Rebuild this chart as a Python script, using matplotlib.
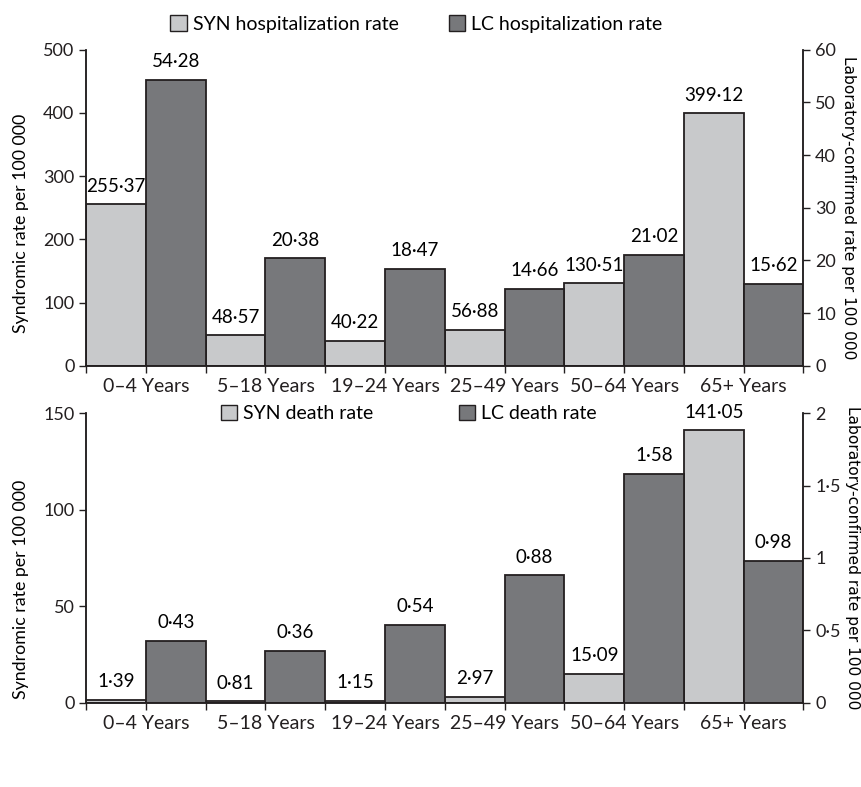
import matplotlib
matplotlib.use("Agg")
import matplotlib.pyplot as plt
from matplotlib.patches import Patch
import numpy as np

plt.rcParams['font.family'] = ['Lato', 'DejaVu Sans']

GROUPS = ["0\u20134 Years", "5\u201318 Years", "19\u201324 Years",
          "25\u201349 Years", "50\u201364 Years", "65+ Years"]

SYN_HOSP = [255.37, 48.57, 40.22, 56.88, 130.51, 399.12]
LC_HOSP = [54.28, 20.38, 18.47, 14.66, 21.02, 15.62]
SYN_DEATH = [1.39, 0.81, 1.15, 2.97, 15.09, 141.05]
LC_DEATH = [0.43, 0.36, 0.54, 0.88, 1.58, 0.98]

LIGHT = "#c8c9cb"
DARK = "#77787b"
EDGE = "#231f20"


def fmt(v):
    return f"{v:.2f}".replace(".", "\u00b7")


def fmt_tick(v, pos=None):
    if v == int(v):
        return f"{int(v)}"
    return f"{v:g}".replace(".", "\u00b7")


def panel(ax, syn, lc, ymax_l, ymax_r, lticks, rticks, label_y):
    x = np.arange(len(GROUPS))
    ax2 = ax.twinx()
    b1 = ax.bar(x - 0.25, syn, 0.5, color=LIGHT, edgecolor=EDGE, linewidth=1.3)
    b2 = ax2.bar(x + 0.25, lc, 0.5, color=DARK, edgecolor=EDGE, linewidth=1.3)
    ax.bar_label(b1, labels=[fmt(v) for v in syn], padding=7, fontsize=13.5)
    ax2.bar_label(b2, labels=[fmt(v) for v in lc], padding=7, fontsize=13.5)
    ax.set_xlim(-0.5, len(GROUPS) - 0.5)
    ax.set_ylim(0, ymax_l)
    ax2.set_ylim(0, ymax_r)
    ax.set_yticks(lticks)
    ax2.set_yticks(rticks)
    ax2.yaxis.set_major_formatter(plt.FuncFormatter(fmt_tick))
    ax.set_xticks(x)
    ax.set_xticklabels(GROUPS, fontsize=14)
    ax.set_xticks(np.arange(-0.5, len(GROUPS), 1.0), minor=True)
    for a in (ax, ax2):
        a.spines['top'].set_visible(False)
        for s in a.spines.values():
            s.set_color(EDGE)
            s.set_linewidth(1.1)
        a.tick_params(axis='y', labelsize=13, length=5, width=1, colors=EDGE)
    ax.tick_params(axis='x', which='both', length=5, width=1, pad=4, colors=EDGE)
    ax.set_ylabel("Syndromic rate per 100 000", fontsize=12.8)
    ax.yaxis.set_label_coords(-0.08, label_y)
    ax2.set_ylabel("Laboratory-confirmed rate per 100 000", fontsize=11.2,
                   family="DejaVu Sans", rotation=-90, labelpad=14)
    return ax2


fig = plt.figure(figsize=(8.62, 7.87), dpi=100)
ax_top = fig.add_axes([0.1, 0.535, 0.832, 0.402])
ax_bot = fig.add_axes([0.1, 0.107, 0.832, 0.368])

panel(ax_top, SYN_HOSP, LC_HOSP, 500, 60,
      [0, 100, 200, 300, 400, 500], [0, 10, 20, 30, 40, 50, 60], 0.45)
panel(ax_bot, SYN_DEATH, LC_DEATH, 150, 2,
      [0, 50, 100, 150], [0, 0.5, 1, 1.5, 2], 0.39)

handles = [Patch(facecolor=LIGHT, edgecolor=EDGE), Patch(facecolor=DARK, edgecolor=EDGE)]
fig.legend(handles, ["SYN hospitalization rate", "LC hospitalization rate"],
           loc="upper center", bbox_to_anchor=(0.483, 1.003), ncol=2, frameon=False,
           fontsize=14, handlelength=0.85, handleheight=0.85, columnspacing=2.6,
           handletextpad=0.3)
fig.legend(handles, ["SYN death rate", "LC death rate"],
           loc="upper center", bbox_to_anchor=(0.474, 0.508), ncol=2, frameon=False,
           fontsize=14, handlelength=0.85, handleheight=0.85, columnspacing=4.4,
           handletextpad=0.3)

fig.savefig("out.png", dpi=100)
